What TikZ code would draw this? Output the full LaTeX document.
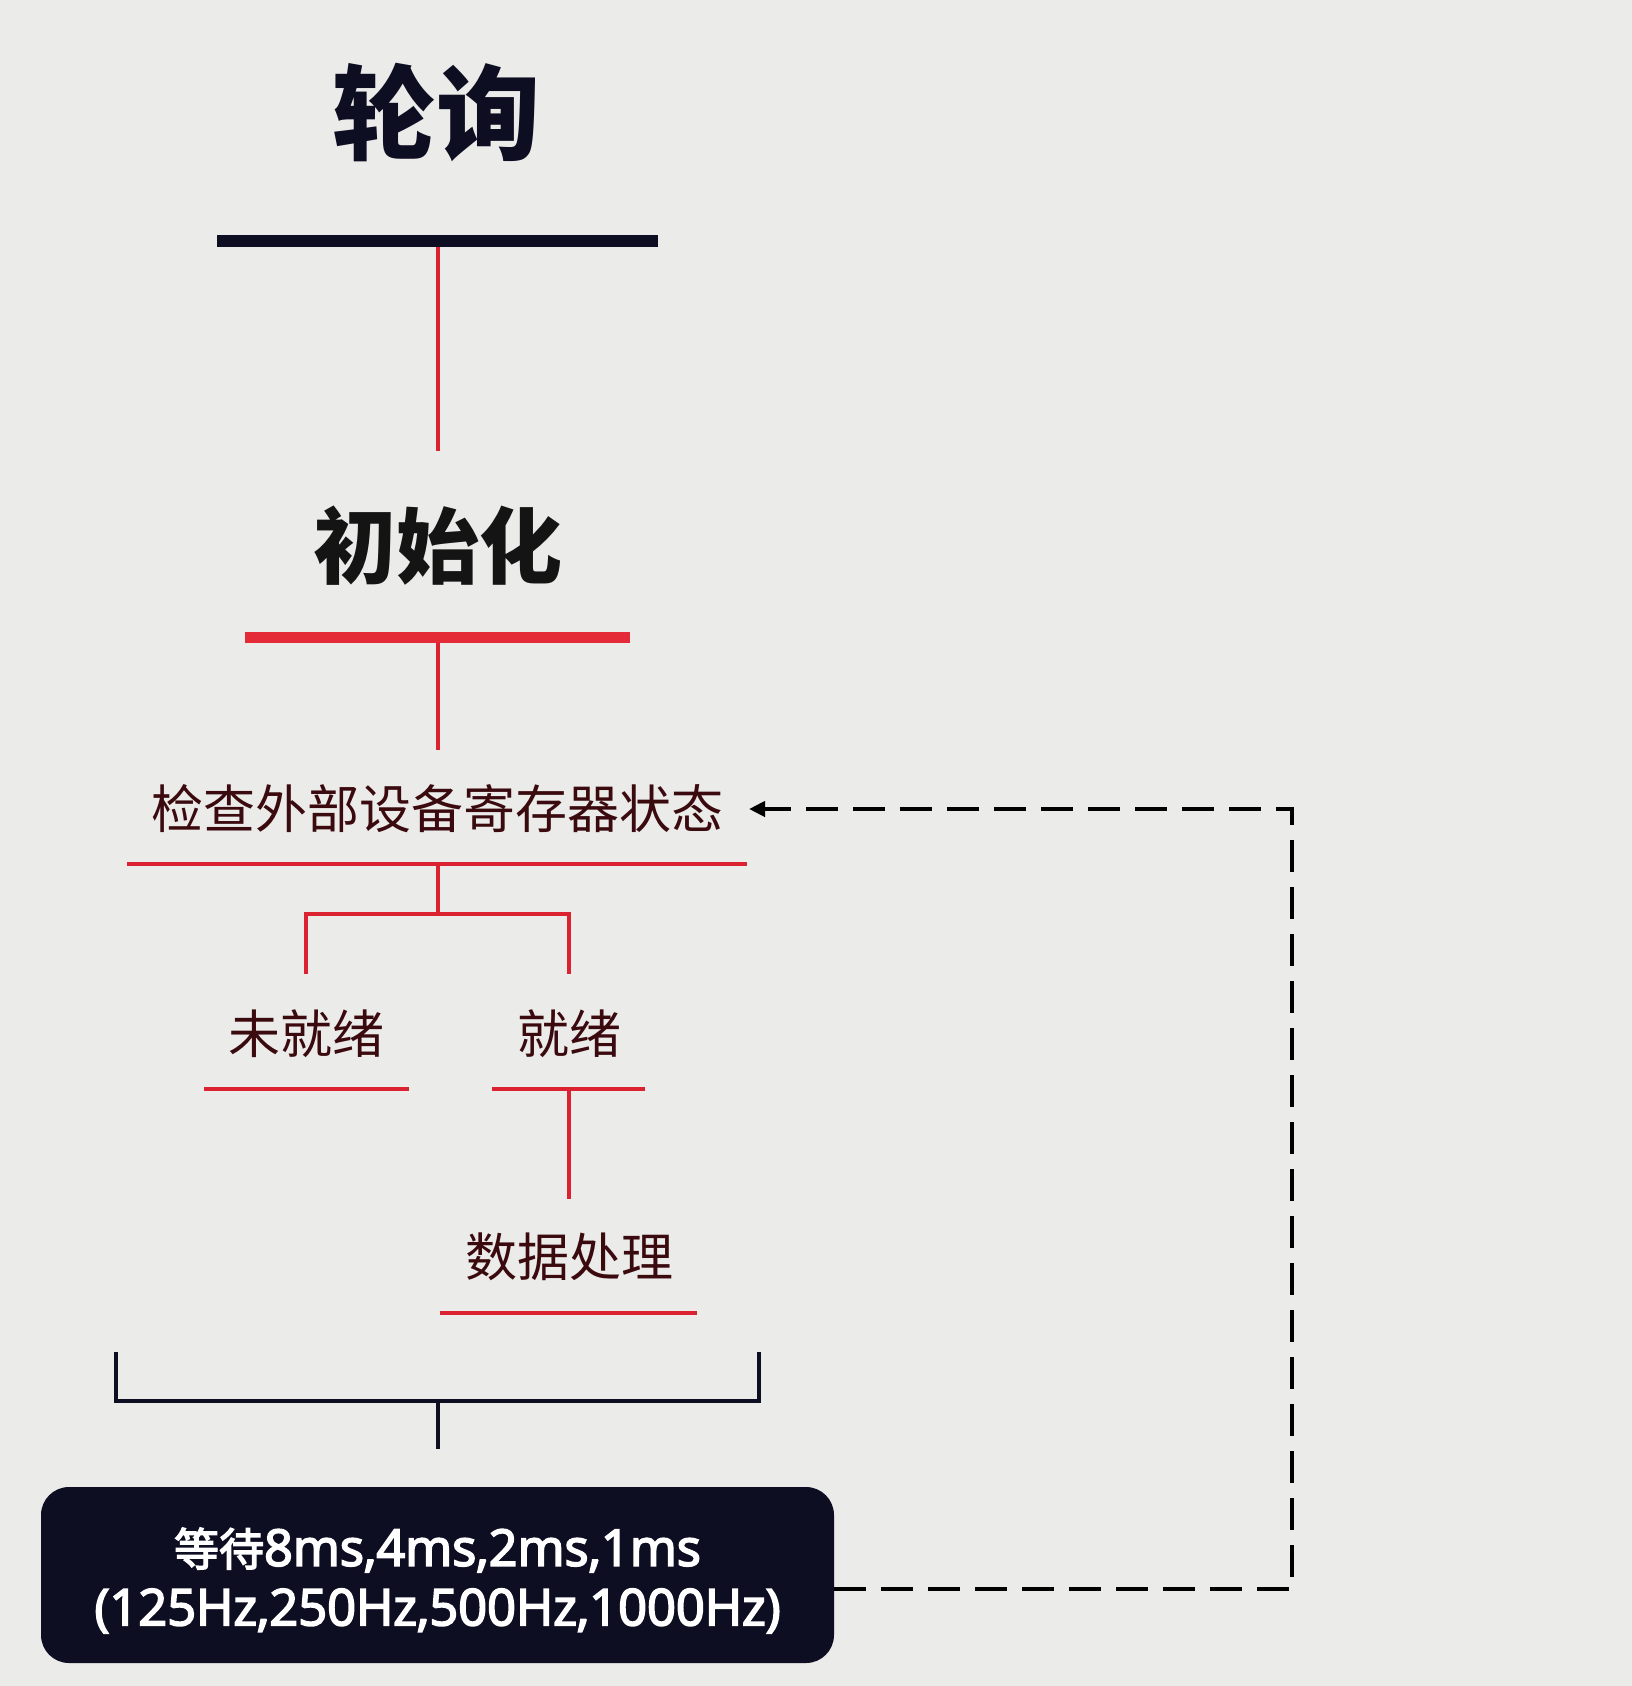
\documentclass[tikz,border=0pt]{standalone}
\usepackage{fontspec}
\usetikzlibrary{arrows.meta}
\newfontfamily\cjk{Noto Sans CJK SC}
\newfontfamily\cjkbox[FakeBold=3]{Noto Sans CJK SC}
\newfontfamily\latinfont[FakeBold=3.5]{Open Sans}
\definecolor{bgc}{HTML}{EBEBEA}
\definecolor{navy}{HTML}{0E0E22}
\definecolor{redl}{HTML}{DA2230}
\definecolor{redb}{HTML}{E42A36}
\definecolor{maroon}{HTML}{3A0A0E}
\tikzset{
  lbl/.style={inner sep=0pt, text=maroon, font=\cjk\fontsize{52}{60}\selectfont},
  boxtxt/.style={inner sep=0pt, text=white, font=\latinfont\fontsize{50.5}{60}\selectfont},
  redline/.style={draw=redl, line width=4pt},
  blackline/.style={draw=navy, line width=4pt},
  loop/.style={draw=black, line width=4pt, dash pattern=on 32pt off 15pt}
}
\begin{document}
\begin{tikzpicture}[x=1pt,y=-1pt]
\fill[bgc] (0,0) rectangle (1632,1686);
\useasboundingbox (0,0) rectangle (1632,1686);

% title
\node[inner sep=0pt, text=navy, font=\cjk\bfseries\fontsize{104}{120}\selectfont] (title) at (436,113) {轮询};
\coordinate (b1l) at (217,241); \coordinate (b1r) at (658,241); \coordinate (b1m) at (437.5,247);
\draw[navy, line width=12pt] (b1l) -- (b1r);

\node[inner sep=0pt, text=black!92, font=\cjk\bfseries\fontsize{83}{100}\selectfont] (init) at (438,546) {初始化};
\draw[redline] (b1m) -- (437.5,451) coordinate (v1e);

\coordinate (b2l) at (245,637); \coordinate (b2r) at (630,637); \coordinate (b2m) at (437.5,643);
\draw[redb, line width=11pt] (b2l) -- (b2r);
\draw[redline] (b2m) -- (437.5,750);

\node[lbl] (check) at (437.5,809) {检查外部设备寄存器状态};
\coordinate (b3l) at (127,864); \coordinate (b3r) at (747,864); \coordinate (b3m) at (437.5,864);
\draw[redline] (b3l) -- (b3r);
\draw[redline] (b3m) -- (437.5,914);
\draw[redline] (306,974) -- (306,914) -- (569,914) -- (569,974);

\node[lbl] (nr) at (306,1034) {未就绪};
\node[lbl] (rd) at (569,1034) {就绪};
\draw[redline] (204,1089) -- (409,1089);
\draw[redline] (492,1089) -- (645,1089);
\coordinate (rdm) at (569,1089);
\draw[redline] (rdm) -- (569,1199);

\node[lbl] (proc) at (569,1257) {数据处理};
\draw[redline] (440,1313) -- (697,1313);

% black bracket
\draw[blackline] (116,1352) -- (116,1401) -- (759,1401) -- (759,1352);
\coordinate (brm) at (437.5,1401);
\draw[blackline] (brm) -- (437.5,1449);

% box
\node[draw=none, fill=navy, rounded corners=28pt, minimum width=793pt, minimum height=176pt,
      inner sep=0pt] (wait) at (437.5,1575) {};
\node[boxtxt] (wait1) at (437.5,1550) {{\cjkbox\fontsize{45}{55}\selectfont 等待}8ms,4ms,2ms,1ms};
\node[boxtxt] (wait2) at (437.5,1611) {(125Hz,250Hz,500Hz,1000Hz)};

% dashed feedback loop
\coordinate (corner1) at (1292,1589);
\coordinate (corner2) at (1292,809);
\draw[loop, -{Triangle[length=16pt,width=15pt]}] (wait.east |- corner1) -- (corner1) -- (corner2) -- (749,809);
\end{tikzpicture}
\end{document}
